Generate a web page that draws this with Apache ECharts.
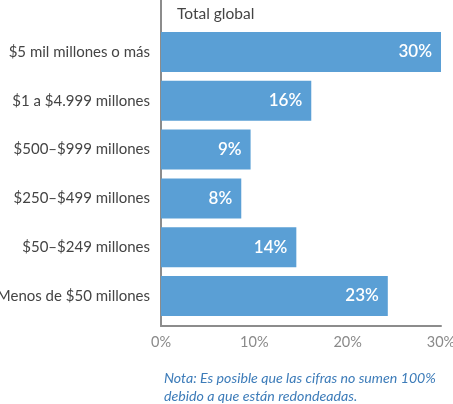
<!DOCTYPE html>
<html>
<head>
<meta charset="utf-8">
<script src="https://cdn.jsdelivr.net/npm/echarts@6/dist/echarts.min.js"></script>
<style>
  html, body { margin: 0; padding: 0; background: #fff; }
  #chart { width: 453px; height: 404px; }
</style>
</head>
<body>
<div id="chart"></div>
<script>
const categories = [
  "$5 mil millones o más",
  "$1 a $4.999 millones",
  "$500–$999 millones",
  "$250–$499 millones",
  "$50–$249 millones",
  "Menos de $50 millones",
];
// bar lengths as drawn in the picture
const values = [30, 16.1, 9.6, 8.6, 14.5, 24.3];
// printed labels
const labels = ["30%", "16%", "9%", "8%", "14%", "23%"];
const xTicks = [0, 10, 20, 30];

const font = "Lato, 'Open Sans', sans-serif";
const chart = echarts.init(document.getElementById("chart"));

chart.setOption({
  backgroundColor: "#fff",
  animation: false,
  textStyle: { fontFamily: font },
  title: [
    {
      text: "Total global",
      left: 172,
      top: 1,
      textStyle: { color: "#444", fontSize: 15.5, fontWeight: "normal", fontFamily: font },
    },
    {
      text: "Nota: Es posible que las cifras no sumen 100%\ndebido a que están redondeadas.",
      left: 159,
      top: 364,
      textStyle: {
        color: "#3d7cb9", fontSize: 14.2, fontStyle: "italic", fontWeight: "normal",
        lineHeight: 18, fontFamily: font,
      },
    },
  ],
  grid: [
    // frame: axis lines + tick labels
    { left: 161, right: 12, top: 0, bottom: 78, outerBoundsMode: "none", containLabel: false },
    // bars
    { left: 161, right: 12, top: 27.6, bottom: 83.6, outerBoundsMode: "none", containLabel: false },
  ],
  xAxis: [
    {
      gridIndex: 0,
      type: "value",
      min: 0,
      max: 30,
      interval: 10,
      splitLine: { show: false },
      axisTick: { show: false },
      axisLine: { show: true, lineStyle: { color: "#8c8c8c", width: 2 } },
      axisLabel: {
        color: "#8a8a8a", fontSize: 14.5, margin: 9, fontFamily: font,
        formatter: (v) => (xTicks.includes(v) ? v + "%" : ""),
      },
    },
    { gridIndex: 1, type: "value", min: 0, max: 30, show: false },
  ],
  yAxis: [
    {
      gridIndex: 0,
      type: "category",
      data: [""],
      axisTick: { show: false },
      axisLabel: { show: false },
      axisLine: { show: true, lineStyle: { color: "#8c8c8c", width: 2 } },
    },
    {
      gridIndex: 1,
      type: "category",
      inverse: true,
      data: categories,
      axisLine: { show: false },
      axisTick: { show: false },
      axisLabel: { color: "#444", fontSize: 15, margin: 11, fontFamily: font },
    },
  ],
  series: [
    {
      type: "bar",
      xAxisIndex: 1,
      yAxisIndex: 1,
      data: values,
      barCategoryGap: "18%",
      itemStyle: { color: "#5a9fd5" },
      label: {
        show: true,
        position: "insideRight",
        distance: 9,
        color: "#fff",
        fontSize: 17,
        fontWeight: 600,
        fontFamily: font,
        formatter: (p) => labels[p.dataIndex],
      },
    },
  ],
});
</script>
</body>
</html>
